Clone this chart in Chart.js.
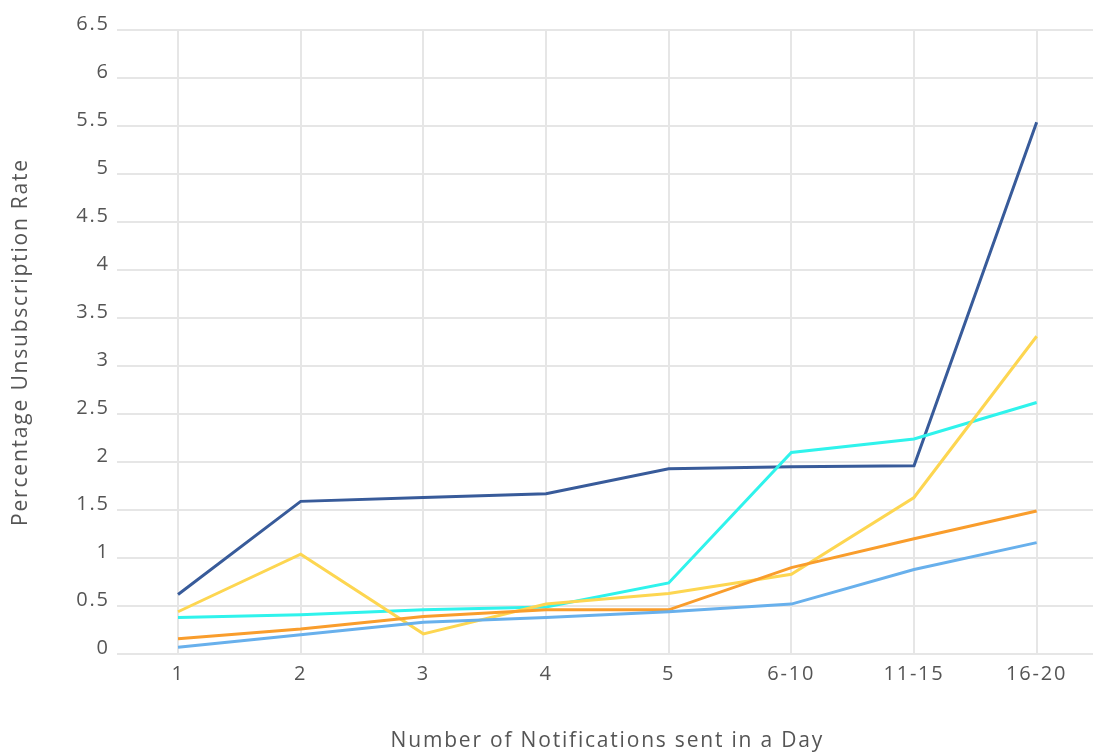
<!DOCTYPE html>
<html>
<head>
<meta charset="utf-8">
<script src="https://cdn.jsdelivr.net/npm/chart.js@4/dist/chart.umd.min.js"></script>
<style>
  html, body { margin: 0; padding: 0; background: #ffffff; overflow: hidden; }
  #wrap { position: relative; width: 1098px; height: 754px; }
</style>
</head>
<body>
<div id="wrap"><canvas id="chart"></canvas></div>
<script>
// Notifications sent per day (categories)
const categories = ['1', '2', '3', '4', '5', '6-10', '11-15', '16-20'];

// Unsubscription rate (%) per series
const seriesDarkBlue  = [0.62, 1.59, 1.63, 1.67, 1.93, 1.95, 1.96, 5.54];
const seriesYellow    = [0.44, 1.04, 0.21, 0.52, 0.63, 0.83, 1.63, 3.31];
const seriesCyan      = [0.38, 0.41, 0.46, 0.49, 0.74, 2.10, 2.24, 2.62];
const seriesOrange    = [0.16, 0.26, 0.39, 0.46, 0.46, 0.90, 1.20, 1.49];
const seriesLightBlue = [0.07, 0.20, 0.33, 0.38, 0.44, 0.52, 0.88, 1.16];

// Y axis tick labels
const yTickLabels = ['0', '0.5', '1', '1.5', '2', '2.5', '3', '3.5', '4', '4.5', '5', '5.5', '6', '6.5'];

const FONT = "'Open Sans', 'Noto Sans', sans-serif";
const TEXT = '#555555';
const GRID = '#e6e6e6';

function line(data, color) {
  return {
    data: data,
    borderColor: color,
    backgroundColor: color,
    borderWidth: 3,
    pointRadius: 0,
    pointHoverRadius: 0,
    tension: 0,
    fill: false
  };
}

// Wider letter spacing for all axis text
const spacedText = {
  id: 'spacedText',
  beforeDraw(chart) { chart.ctx.letterSpacing = '1.8px'; }
};

new Chart(document.getElementById('chart'), {
  type: 'line',
  data: {
    labels: categories,
    datasets: [
      line(seriesLightBlue, '#68b0ec'),
      line(seriesOrange, '#f99d2c'),
      line(seriesYellow, '#fdd651'),
      line(seriesCyan, '#2ff3ec'),
      line(seriesDarkBlue, '#385b9a')
    ]
  },
  plugins: [spacedText],
  options: {
    responsive: true,
    maintainAspectRatio: false,
    animation: false,
    layout: { padding: { top: 30, left: 0, right: 0, bottom: 0 } },
    plugins: {
      legend: { display: false },
      tooltip: { enabled: false }
    },
    scales: {
      x: {
        type: 'category',
        offset: true,
        grid: { color: GRID, lineWidth: 2, drawTicks: false },
        border: { display: false },
        ticks: {
          color: TEXT,
          font: { family: FONT, size: 20 },
          padding: 8,
          maxRotation: 0,
          autoSkip: false
        },
        title: {
          display: true,
          text: 'Number of Notifications sent in a Day',
          color: TEXT,
          font: { family: FONT, size: 21 },
          padding: { top: 0, bottom: 0 }
        },
        afterFit: function (scale) { scale.height = 100; }
      },
      y: {
        type: 'linear',
        min: 0,
        max: 6.5,
        grid: { color: GRID, lineWidth: 2, drawTicks: false },
        border: { display: false },
        ticks: {
          stepSize: 0.5,
          color: TEXT,
          font: { family: FONT, size: 20 },
          padding: 7,
          labelOffset: -6,
          callback: function (value, index) { return yTickLabels[index]; }
        },
        title: {
          display: true,
          text: 'Percentage Unsubscription Rate',
          color: TEXT,
          font: { family: FONT, size: 21 },
          padding: { top: 8, bottom: 0 }
        },
        afterFit: function (scale) { scale.width = 116.7; }
      }
    }
  }
});
</script>
</body>
</html>
